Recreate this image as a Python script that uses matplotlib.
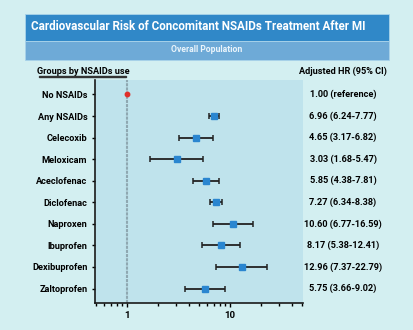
import matplotlib.pyplot as plt
import matplotlib.patches as patches
import numpy as np

# Adjusted hazard ratios with 95% CI for each NSAID group
groups = ['No NSAIDs', 'Any NSAIDs', 'Celecoxib', 'Meloxicam', 'Aceclofenac',
          'Diclofenac', 'Naproxen', 'Ibuprofen', 'Dexibuprofen', 'Zaltoprofen']
hr = [1.00, 6.96, 4.65, 3.03, 5.85, 7.27, 10.60, 8.17, 12.96, 5.75]
ci_low = [1.00, 6.24, 3.17, 1.68, 4.38, 6.34, 6.77, 5.38, 7.37, 3.66]
ci_high = [1.00, 7.77, 6.82, 5.47, 7.81, 8.38, 16.59, 12.41, 22.79, 9.02]

FONT = 'Roboto'
bg = '#d3eff1'
fig = plt.figure(figsize=(4.13, 3.30), dpi=100, facecolor=bg)

# header bands
fig.patches.append(patches.Rectangle((25/413, 1-40.5/330), 364/413, 27/330,
                                     transform=fig.transFigure, facecolor='#3088c8',
                                     edgecolor='#a9d3ea', lw=0.6, zorder=0))
fig.patches.append(patches.Rectangle((25/413, 1-60/330), 364/413, 19.5/330,
                                     transform=fig.transFigure, facecolor='#6eaad7',
                                     edgecolor='#a9d3ea', lw=0.6, zorder=0))
fig.text(31/413, 1-27/330, 'Cardiovascular Risk of Concomitant NSAIDs Treatment After MI',
         color='white', fontsize=8.4, fontweight='bold', va='center', ha='left',
         family=FONT)
fig.text(207/413, 1-50/330, 'Overall Population', color='#eaf4fb', fontsize=6.2,
         fontweight='bold', va='center', ha='center', family=FONT)

ax = fig.add_axes([95/413, 1-303/330, 208/413, 223/330])
ax.set_facecolor('#bfe3ec')
y = np.arange(len(groups))

# reference line at HR = 1
ax.axvline(1, color='#8fa8b1', lw=1.5, ls=(0, (1.5, 0.5)), zorder=1)

hr_a = np.array(hr[1:])
err = [hr_a - np.array(ci_low[1:]), np.array(ci_high[1:]) - hr_a]
ax.errorbar(hr_a, y[1:], xerr=err, fmt='s', color='#2a86d0', ms=4.2,
            ecolor='#222222', elinewidth=1.3, capsize=2.3, capthick=1.1, zorder=3)
ax.plot(hr[0], y[0], 'o', color='#e0302a', ms=3.2, zorder=3)

ax.set_xscale('log')
ax.set_xlim(0.49, 51)
ax.set_ylim(9.67, -0.67)
ax.set_xticks([1, 10])
ax.set_xticklabels(['1', '10'])
ax.set_yticks(y)
ax.set_yticklabels(groups, family=FONT, fontweight='bold', fontsize=6.6)
ax.tick_params(axis='x', labelsize=6.8, length=3, width=1, pad=3)
ax.tick_params(axis='x', which='minor', length=2, width=1)
ax.tick_params(axis='y', length=2.5, width=1, pad=3)
for lab in ax.get_xticklabels():
    lab.set_fontweight('bold')
    lab.set_family(FONT)
for s in ['top', 'right']:
    ax.spines[s].set_visible(False)
for s in ['left', 'bottom']:
    ax.spines[s].set_linewidth(1.2)
    ax.spines[s].set_color('#1a1a1a')

# column headers
fig.text(83/413, 1-71.5/330, 'Groups by NSAIDs use', fontsize=6.6, fontweight='bold',
         ha='center', va='center', family=FONT)
fig.patches.append(patches.Rectangle((39/413, 1-76.5/330), 87/413, 0.8/330,
                                     transform=fig.transFigure, color='#333333'))
fig.text(343/413, 1-71.5/330, 'Adjusted HR (95% CI)', fontsize=6.6, fontweight='bold',
         ha='center', va='center', family=FONT)

# HR value column
for i in range(len(groups)):
    if i == 0:
        txt = '%.2f (reference)' % hr[i]
    else:
        txt = '%.2f (%.2f-%.2f)' % (hr[i], ci_low[i], ci_high[i])
    ax.annotate(txt, xy=(343/413, i), xycoords=('figure fraction', 'data'),
                ha='center', va='center', fontsize=6.6, fontweight='bold',
                family=FONT, annotation_clip=False)

fig.savefig('out.png', dpi=100, facecolor=bg)
